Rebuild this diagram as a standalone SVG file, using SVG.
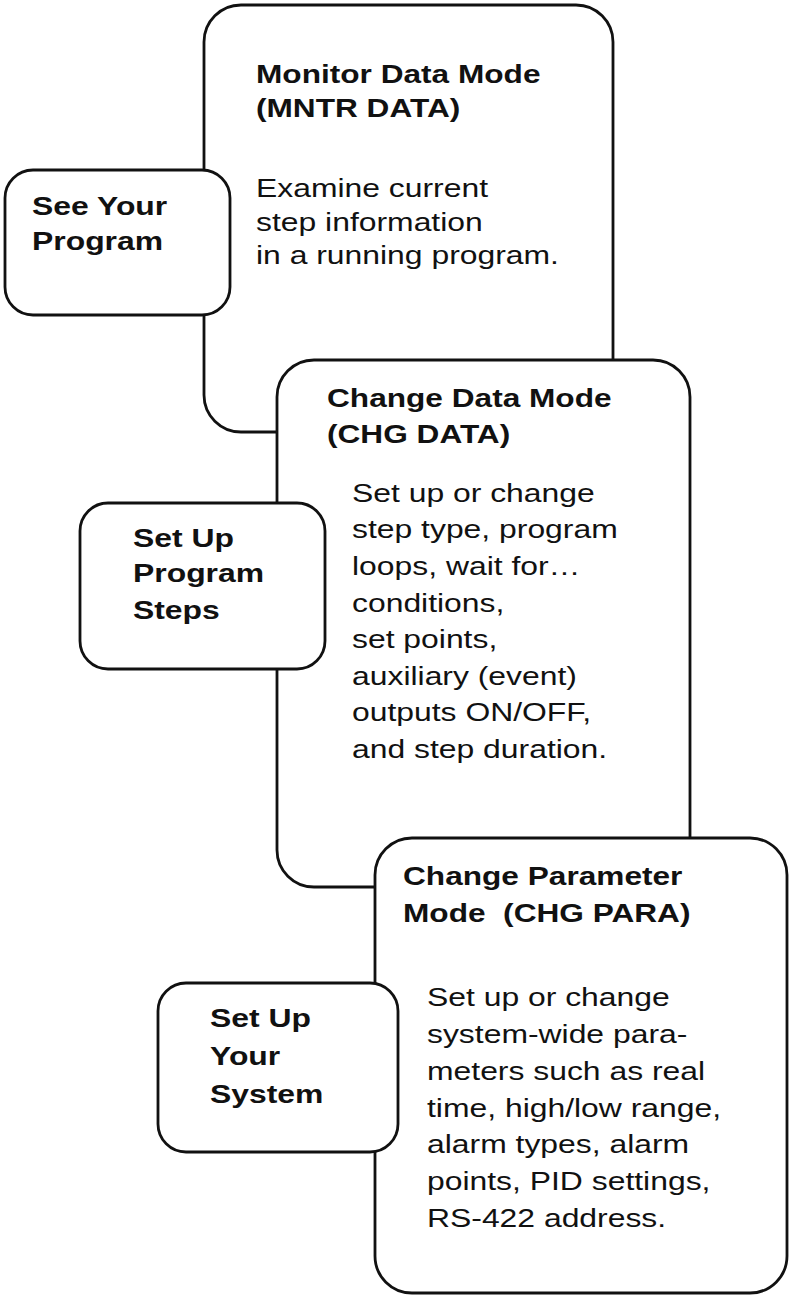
<svg xmlns="http://www.w3.org/2000/svg" width="790" height="1298" viewBox="0 0 790 1298">
<style>
.box{fill:#fff;stroke:#111;stroke-width:2.8}
.t{font-family:"Liberation Sans",Arial,Helvetica,sans-serif;font-size:25.5px;fill:#111}
.b{font-weight:bold}
</style>
<rect width="790" height="1298" fill="#fff"/>
<g id="connectors"></g>
<g id="monitor-data-mode">
<rect class="box" x="204" y="5" width="409" height="427" rx="37" ry="37"/>
<text class="t b" transform="translate(256,0) scale(1.24,1)"><tspan x="0" y="83">Monitor Data Mode</tspan><tspan x="0" y="117">(MNTR DATA)</tspan></text>
<text class="t" transform="translate(256,0) scale(1.25,1)"><tspan x="0" y="197">Examine current</tspan><tspan x="0" y="231">step information</tspan><tspan x="0" y="264">in a running program.</tspan></text>
</g>
<g id="change-data-mode">
<rect class="box" x="277" y="360" width="413" height="527" rx="37" ry="37"/>
<text class="t b" transform="translate(327,0) scale(1.24,1)"><tspan x="0" y="407">Change Data Mode</tspan><tspan x="0" y="443">(CHG DATA)</tspan></text>
<text class="t" transform="translate(352,0) scale(1.25,1)"><tspan x="0" y="502">Set up or change</tspan><tspan x="0" y="538">step type, program</tspan><tspan x="0" y="575">loops, wait for…</tspan><tspan x="0" y="612">conditions,</tspan><tspan x="0" y="648">set points,</tspan><tspan x="0" y="685">auxiliary (event)</tspan><tspan x="0" y="721">outputs ON/OFF,</tspan><tspan x="0" y="758">and step duration.</tspan></text>
</g>
<g id="change-parameter-mode">
<rect class="box" x="375" y="838" width="412" height="455" rx="37" ry="37"/>
<text class="t b" transform="translate(403,0) scale(1.24,1)" style="white-space:pre"><tspan x="0" y="885">Change Parameter</tspan><tspan x="0" y="922">Mode  (CHG PARA)</tspan></text>
<text class="t" transform="translate(427,0) scale(1.25,1)"><tspan x="0" y="1006">Set up or change</tspan><tspan x="0" y="1043">system-wide para-</tspan><tspan x="0" y="1080">meters such as real</tspan><tspan x="0" y="1117">time, high/low range,</tspan><tspan x="0" y="1153">alarm types, alarm</tspan><tspan x="0" y="1190">points, PID settings,</tspan><tspan x="0" y="1227">RS-422 address.</tspan></text>
</g>
<g id="see-your-program">
<rect class="box" x="5" y="170" width="225" height="145" rx="28" ry="28"/>
<text class="t b" transform="translate(32,0) scale(1.25,1)"><tspan x="0" y="215">See Your</tspan><tspan x="0" y="250">Program</tspan></text>
</g>
<g id="set-up-program-steps">
<rect class="box" x="80" y="503" width="245" height="166" rx="28" ry="28"/>
<text class="t b" transform="translate(133,0) scale(1.25,1)"><tspan x="0" y="547">Set Up</tspan><tspan x="0" y="582">Program</tspan><tspan x="0" y="619">Steps</tspan></text>
</g>
<g id="set-up-your-system">
<rect class="box" x="158" y="983" width="240" height="169" rx="28" ry="28"/>
<text class="t b" transform="translate(210,0) scale(1.25,1)"><tspan x="0" y="1027">Set Up</tspan><tspan x="0" y="1065">Your</tspan><tspan x="0" y="1103">System</tspan></text>
</g>
</svg>
